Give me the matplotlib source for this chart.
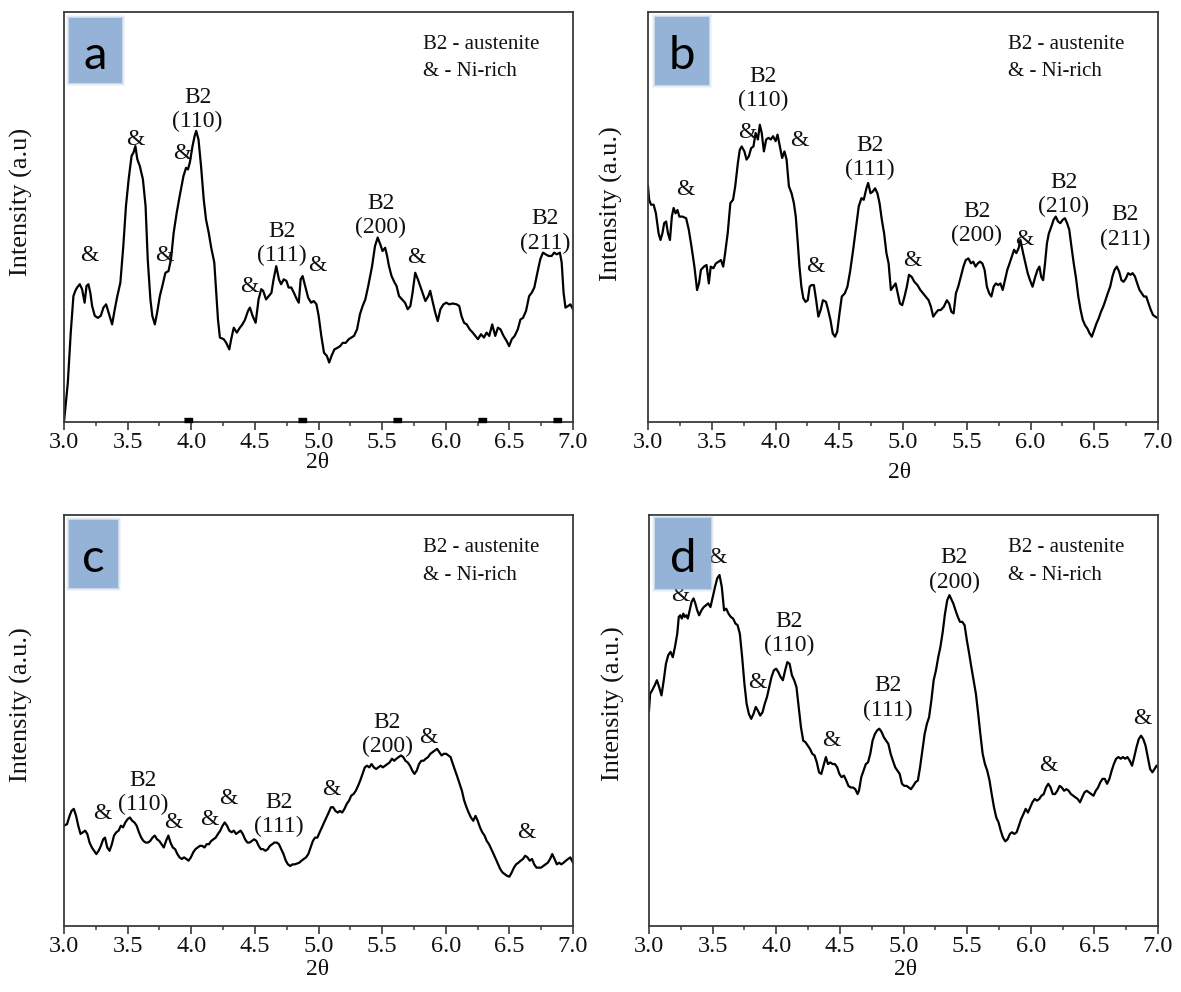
import matplotlib
matplotlib.use("Agg")
import matplotlib.pyplot as plt
from matplotlib.patches import Rectangle
from matplotlib.ticker import MultipleLocator

plt.rcParams['font.family'] = ['Liberation Serif', 'DejaVu Serif']

# ---------------- data (2theta, intensity in arbitrary units, 0-100 of panel height) ---------------
a_x = [3.000, 3.030, 3.053, 3.074, 3.089, 3.103, 3.124, 3.142, 3.162, 3.177, 3.192, 3.207, 3.221, 3.242,
       3.266, 3.289, 3.310, 3.331, 3.354, 3.378, 3.399, 3.419, 3.443, 3.466, 3.487, 3.508, 3.531, 3.546,
       3.561, 3.576, 3.596, 3.620, 3.641, 3.658, 3.679, 3.694, 3.714, 3.732, 3.753, 3.773, 3.797, 3.821,
       3.841, 3.862, 3.886, 3.909, 3.939, 3.959, 3.974, 3.989, 4.010, 4.027, 4.039, 4.057, 4.077, 4.098,
       4.116, 4.137, 4.157, 4.181, 4.196, 4.210, 4.225, 4.255, 4.275, 4.299, 4.314, 4.334, 4.358, 4.382,
       4.402, 4.423, 4.446, 4.461, 4.482, 4.506, 4.529, 4.550, 4.565, 4.588, 4.609, 4.630, 4.647, 4.668,
       4.689, 4.706, 4.727, 4.748, 4.765, 4.786, 4.807, 4.830, 4.845, 4.860, 4.875, 4.895, 4.919, 4.942,
       4.963, 4.984, 5.001, 5.022, 5.043, 5.066, 5.084, 5.102, 5.125, 5.149, 5.170, 5.190, 5.214, 5.238,
       5.258, 5.279, 5.303, 5.326, 5.347, 5.368, 5.391, 5.421, 5.444, 5.465, 5.486, 5.503, 5.524, 5.539,
       5.554, 5.574, 5.598, 5.613, 5.633, 5.657, 5.680, 5.701, 5.722, 5.739, 5.760, 5.781, 5.799, 5.819,
       5.840, 5.863, 5.878, 5.893, 5.917, 5.937, 5.958, 5.982, 6.005, 6.026, 6.055, 6.085, 6.106, 6.123,
       6.144, 6.165, 6.188, 6.212, 6.232, 6.253, 6.277, 6.300, 6.321, 6.342, 6.365, 6.389, 6.410, 6.430,
       6.454, 6.478, 6.498, 6.519, 6.542, 6.566, 6.587, 6.607, 6.631, 6.655, 6.675, 6.696, 6.720, 6.743,
       6.764, 6.785, 6.808, 6.832, 6.852, 6.873, 6.897, 6.911, 6.926, 6.941, 6.962, 6.979, 7.000]
a_y = [0.0, 9.6, 21.8, 30.7, 32.0, 32.8, 33.6, 32.4, 29.1, 33.2, 33.6, 31.5, 28.3, 25.9,
       25.4, 25.9, 27.9, 28.7, 26.3, 23.8, 27.5, 30.7, 34.0, 42.9, 52.7, 59.2, 64.9, 65.7,
       67.3, 64.1, 62.4, 59.2, 52.7, 39.7, 29.9, 25.9, 23.8, 26.7, 30.7, 33.2, 36.4, 36.8,
       39.7, 46.2, 51.1, 55.1, 60.0, 62.0, 61.6, 63.3, 67.3, 69.8, 71.0, 68.9, 62.4, 54.3,
       49.4, 46.2, 42.5, 38.9, 31.5, 25.0, 20.6, 20.2, 19.3, 17.7, 20.2, 23.0, 21.8, 23.0,
       23.8, 25.0, 27.1, 27.9, 25.9, 24.2, 29.9, 32.4, 32.0, 29.9, 30.7, 31.5, 34.8, 38.0,
       34.8, 33.6, 34.8, 34.4, 32.8, 32.8, 31.5, 29.9, 29.1, 34.8, 35.6, 33.2, 30.3, 29.1,
       29.5, 28.7, 25.9, 21.0, 16.9, 16.1, 14.5, 16.1, 17.7, 18.1, 18.5, 19.3, 19.3, 20.2,
       20.6, 21.0, 22.6, 26.3, 28.3, 29.9, 33.2, 38.0, 42.9, 45.0, 43.3, 41.7, 42.5, 40.5,
       38.0, 35.6, 34.0, 33.2, 30.7, 29.9, 29.1, 27.5, 28.3, 31.5, 36.4, 34.8, 33.2, 31.5,
       29.5, 30.7, 32.0, 29.9, 26.7, 24.6, 27.5, 28.7, 29.1, 28.7, 28.9, 28.7, 28.3, 25.9,
       24.2, 23.8, 22.6, 21.8, 21.0, 20.2, 21.4, 20.6, 21.8, 21.0, 23.8, 21.0, 23.0, 22.6,
       21.0, 19.8, 18.5, 20.2, 21.0, 22.6, 25.0, 25.4, 27.1, 30.7, 31.5, 32.8, 36.4, 39.7,
       41.3, 40.9, 40.5, 40.5, 41.3, 40.9, 41.3, 38.9, 31.5, 27.9, 28.3, 28.7, 27.5]
a_marks = [3.972, 4.868, 5.615, 6.283, 6.877]

b_x = [3.000, 3.009, 3.024, 3.044, 3.062, 3.083, 3.098, 3.113, 3.127, 3.142, 3.157, 3.172, 3.187, 3.201,
       3.216, 3.231, 3.246, 3.270, 3.299, 3.320, 3.341, 3.364, 3.385, 3.400, 3.415, 3.439, 3.459, 3.477,
       3.492, 3.513, 3.533, 3.554, 3.572, 3.590, 3.601, 3.625, 3.646, 3.667, 3.684, 3.705, 3.720, 3.735,
       3.756, 3.773, 3.791, 3.809, 3.827, 3.844, 3.862, 3.877, 3.892, 3.909, 3.927, 3.945, 3.963, 3.981,
       4.001, 4.016, 4.034, 4.052, 4.070, 4.087, 4.105, 4.126, 4.144, 4.159, 4.173, 4.188, 4.203, 4.218,
       4.236, 4.253, 4.268, 4.283, 4.301, 4.319, 4.336, 4.354, 4.372, 4.396, 4.413, 4.431, 4.449, 4.467,
       4.484, 4.502, 4.520, 4.544, 4.564, 4.585, 4.609, 4.633, 4.653, 4.674, 4.692, 4.713, 4.727, 4.745,
       4.763, 4.781, 4.799, 4.816, 4.834, 4.852, 4.870, 4.887, 4.905, 4.923, 4.942, 4.959, 4.976, 4.994,
       5.012, 5.030, 5.047, 5.068, 5.089, 5.113, 5.136, 5.157, 5.178, 5.201, 5.219, 5.237, 5.255, 5.276,
       5.296, 5.320, 5.344, 5.362, 5.379, 5.397, 5.415, 5.433, 5.453, 5.474, 5.492, 5.513, 5.533, 5.551,
       5.569, 5.587, 5.604, 5.622, 5.640, 5.658, 5.676, 5.693, 5.711, 5.729, 5.747, 5.764, 5.782, 5.800,
       5.818, 5.836, 5.853, 5.871, 5.889, 5.907, 5.921, 5.942, 5.960, 5.978, 5.996, 6.016, 6.037, 6.055,
       6.070, 6.084, 6.099, 6.114, 6.129, 6.144, 6.164, 6.181, 6.198, 6.216, 6.234, 6.252, 6.270, 6.287,
       6.304, 6.321, 6.339, 6.357, 6.375, 6.393, 6.410, 6.428, 6.446, 6.464, 6.481, 6.499, 6.517, 6.535,
       6.553, 6.570, 6.588, 6.606, 6.625, 6.642, 6.659, 6.677, 6.695, 6.713, 6.730, 6.748, 6.766, 6.784,
       6.801, 6.819, 6.837, 6.855, 6.873, 6.890, 6.908, 6.926, 6.944, 6.961, 6.979, 7.000]
b_y = [57.5, 54.2, 53.0, 53.0, 50.9, 46.0, 44.4, 46.0, 48.5, 48.9, 46.0, 44.4, 50.1, 52.2,
       50.9, 51.7, 50.1, 50.1, 49.7, 46.9, 42.8, 37.9, 32.2, 33.8, 37.1, 37.9, 38.3, 33.8,
       37.9, 37.5, 38.7, 39.1, 39.5, 37.9, 40.3, 46.0, 53.4, 54.2, 57.5, 63.2, 66.4, 67.2,
       66.0, 64.0, 64.8, 66.8, 67.2, 70.5, 68.9, 72.5, 70.5, 66.0, 68.9, 69.3, 68.9, 69.7,
       68.5, 70.1, 67.2, 64.4, 66.0, 64.0, 57.5, 55.8, 53.4, 50.1, 44.4, 37.9, 33.0, 30.2,
       29.3, 29.7, 33.0, 33.4, 33.4, 29.7, 25.7, 27.3, 29.7, 29.3, 27.3, 24.9, 21.6, 20.8,
       22.0, 26.5, 30.6, 31.4, 33.0, 36.7, 42.0, 47.7, 52.6, 54.6, 54.2, 57.0, 58.3, 55.8,
       56.2, 57.0, 55.8, 53.4, 49.3, 46.0, 41.2, 38.7, 32.2, 33.0, 33.8, 31.4, 28.9, 28.5,
       30.6, 33.0, 35.9, 35.4, 34.2, 33.4, 32.2, 31.4, 30.6, 29.7, 28.1, 25.7, 26.5, 27.3,
       27.3, 28.1, 29.7, 28.9, 26.9, 26.5, 31.4, 33.0, 35.4, 37.9, 39.5, 39.9, 38.7, 39.1,
       37.9, 38.7, 39.1, 38.7, 37.1, 33.0, 31.4, 30.6, 33.0, 33.8, 33.4, 33.8, 32.2, 34.6,
       37.1, 38.7, 40.3, 42.0, 41.2, 42.4, 44.4, 41.2, 38.7, 36.3, 34.6, 33.0, 35.4, 37.1,
       37.9, 35.4, 34.6, 38.7, 43.6, 46.0, 47.7, 49.3, 50.1, 48.9, 48.5, 49.3, 49.7, 48.5,
       46.9, 42.8, 38.7, 35.1, 30.6, 27.3, 24.9, 23.6, 22.8, 21.6, 20.8, 22.4, 24.0, 25.3,
       26.9, 28.1, 29.7, 31.4, 33.0, 35.4, 37.1, 37.9, 36.7, 34.6, 34.2, 35.0, 36.3, 35.9,
       36.3, 35.5, 33.8, 32.2, 31.4, 30.6, 30.6, 28.9, 27.3, 26.1, 25.7, 25.3]

c_x = [3.000, 3.024, 3.044, 3.059, 3.077, 3.095, 3.112, 3.130, 3.148, 3.166, 3.183, 3.201, 3.219, 3.237,
       3.254, 3.272, 3.290, 3.308, 3.322, 3.340, 3.358, 3.376, 3.393, 3.411, 3.429, 3.447, 3.464, 3.482,
       3.500, 3.518, 3.536, 3.553, 3.571, 3.589, 3.607, 3.624, 3.642, 3.660, 3.678, 3.695, 3.713, 3.731,
       3.749, 3.766, 3.784, 3.802, 3.820, 3.837, 3.855, 3.873, 3.891, 3.908, 3.926, 3.944, 3.962, 3.979,
       3.997, 4.015, 4.033, 4.050, 4.068, 4.086, 4.104, 4.121, 4.139, 4.157, 4.175, 4.192, 4.210, 4.228,
       4.246, 4.263, 4.281, 4.299, 4.317, 4.334, 4.352, 4.370, 4.388, 4.405, 4.423, 4.441, 4.459, 4.476,
       4.494, 4.512, 4.530, 4.547, 4.565, 4.583, 4.601, 4.618, 4.636, 4.654, 4.672, 4.689, 4.707, 4.725,
       4.743, 4.760, 4.778, 4.796, 4.814, 4.831, 4.849, 4.867, 4.885, 4.902, 4.920, 4.938, 4.956, 4.973,
       4.991, 5.009, 5.027, 5.044, 5.062, 5.080, 5.098, 5.115, 5.133, 5.151, 5.169, 5.186, 5.204, 5.222,
       5.240, 5.257, 5.275, 5.293, 5.311, 5.328, 5.346, 5.364, 5.382, 5.399, 5.417, 5.435, 5.453, 5.470,
       5.488, 5.506, 5.524, 5.541, 5.559, 5.577, 5.595, 5.612, 5.630, 5.648, 5.666, 5.683, 5.701, 5.719,
       5.737, 5.754, 5.772, 5.790, 5.808, 5.825, 5.843, 5.861, 5.879, 5.896, 5.914, 5.932, 5.950, 5.967,
       5.985, 6.003, 6.021, 6.038, 6.056, 6.074, 6.092, 6.109, 6.127, 6.145, 6.163, 6.180, 6.198, 6.216,
       6.234, 6.251, 6.269, 6.287, 6.305, 6.322, 6.340, 6.358, 6.376, 6.393, 6.411, 6.429, 6.447, 6.464,
       6.482, 6.500, 6.518, 6.536, 6.553, 6.571, 6.589, 6.607, 6.624, 6.642, 6.660, 6.678, 6.695, 6.713,
       6.731, 6.749, 6.766, 6.784, 6.802, 6.820, 6.837, 6.855, 6.873, 6.891, 6.908, 6.926, 6.944, 6.962,
       6.979, 7.000]
c_y = [24.4, 24.8, 26.8, 28.0, 28.5, 26.8, 24.4, 22.4, 22.8, 23.2, 22.4, 20.3, 19.1, 18.3,
       17.5, 18.3, 19.5, 21.1, 21.5, 19.1, 18.3, 19.9, 22.0, 22.8, 23.2, 24.4, 24.0, 25.2,
       26.0, 26.4, 25.6, 25.2, 24.4, 22.8, 21.5, 20.7, 20.3, 20.3, 20.7, 21.5, 22.0, 21.1,
       20.7, 19.9, 19.1, 20.7, 22.0, 20.3, 19.1, 18.7, 17.5, 16.7, 16.3, 16.7, 16.3, 15.9,
       16.7, 17.9, 18.7, 19.1, 19.5, 19.5, 19.1, 19.9, 19.9, 20.7, 21.1, 21.5, 22.4, 23.2,
       24.4, 25.2, 24.4, 23.2, 22.8, 23.2, 22.4, 22.8, 23.2, 22.4, 21.1, 20.3, 20.3, 20.7,
       21.1, 20.7, 19.5, 18.7, 18.7, 18.3, 18.7, 19.5, 19.9, 20.3, 20.3, 19.9, 18.7, 17.5,
       15.9, 15.0, 14.6, 15.0, 15.0, 15.2, 15.4, 15.9, 16.3, 16.7, 17.5, 19.1, 20.7, 21.5,
       21.5, 22.8, 24.0, 25.2, 26.4, 27.6, 28.9, 28.9, 28.0, 27.6, 28.0, 27.6, 28.5, 29.7,
       30.5, 31.7, 32.1, 32.9, 34.1, 35.4, 37.0, 38.6, 39.0, 38.6, 39.4, 38.6, 38.2, 38.6,
       39.0, 38.6, 39.0, 39.4, 39.8, 40.7, 40.2, 40.7, 41.1, 41.5, 41.1, 40.2, 39.8, 39.0,
       37.8, 37.0, 37.8, 39.4, 40.2, 40.2, 40.7, 41.1, 41.9, 42.3, 42.7, 43.1, 42.3, 41.5,
       41.9, 41.9, 41.5, 41.1, 39.4, 37.8, 36.2, 34.6, 32.9, 30.5, 28.9, 27.6, 26.4, 25.6,
       26.8, 25.6, 24.0, 22.8, 22.0, 20.7, 19.9, 18.7, 17.5, 16.3, 15.0, 13.8, 13.0, 12.6,
       12.2, 12.0, 13.0, 14.2, 15.0, 15.4, 15.9, 16.3, 17.1, 16.7, 15.9, 16.3, 15.0, 14.2,
       14.2, 14.2, 14.6, 15.0, 15.4, 16.3, 17.5, 16.3, 15.0, 15.4, 15.0, 15.4, 15.9, 16.3,
       16.7, 15.4]

d_x = [3.000, 3.009, 3.024, 3.044, 3.062, 3.080, 3.098, 3.116, 3.133, 3.151, 3.169, 3.187, 3.204, 3.222,
       3.234, 3.246, 3.258, 3.270, 3.281, 3.293, 3.305, 3.320, 3.335, 3.350, 3.364, 3.379, 3.394, 3.412,
       3.430, 3.447, 3.465, 3.483, 3.501, 3.519, 3.536, 3.554, 3.572, 3.590, 3.607, 3.625, 3.643, 3.661,
       3.679, 3.696, 3.714, 3.732, 3.750, 3.767, 3.785, 3.803, 3.821, 3.839, 3.856, 3.874, 3.892, 3.910,
       3.927, 3.945, 3.963, 3.981, 3.999, 4.016, 4.034, 4.052, 4.070, 4.087, 4.105, 4.123, 4.141, 4.159,
       4.176, 4.194, 4.212, 4.230, 4.247, 4.265, 4.283, 4.301, 4.319, 4.336, 4.354, 4.372, 4.390, 4.407,
       4.425, 4.443, 4.461, 4.479, 4.496, 4.514, 4.532, 4.550, 4.567, 4.585, 4.603, 4.621, 4.639, 4.650,
       4.668, 4.686, 4.704, 4.721, 4.739, 4.757, 4.775, 4.793, 4.810, 4.828, 4.846, 4.864, 4.881, 4.899,
       4.917, 4.935, 4.953, 4.970, 4.988, 5.006, 5.024, 5.041, 5.059, 5.077, 5.095, 5.113, 5.130, 5.148,
       5.166, 5.184, 5.201, 5.219, 5.237, 5.255, 5.273, 5.290, 5.308, 5.326, 5.344, 5.361, 5.373, 5.391,
       5.409, 5.427, 5.444, 5.462, 5.480, 5.498, 5.516, 5.533, 5.551, 5.569, 5.587, 5.604, 5.622, 5.640,
       5.658, 5.676, 5.693, 5.711, 5.729, 5.747, 5.764, 5.782, 5.800, 5.818, 5.836, 5.853, 5.871, 5.889,
       5.907, 5.924, 5.942, 5.960, 5.978, 5.996, 6.013, 6.031, 6.049, 6.067, 6.084, 6.102, 6.120, 6.138,
       6.156, 6.173, 6.191, 6.209, 6.227, 6.244, 6.262, 6.280, 6.298, 6.316, 6.333, 6.351, 6.369, 6.387,
       6.404, 6.422, 6.440, 6.458, 6.476, 6.493, 6.511, 6.529, 6.547, 6.564, 6.582, 6.600, 6.618, 6.636,
       6.653, 6.671, 6.689, 6.707, 6.724, 6.742, 6.760, 6.778, 6.796, 6.813, 6.831, 6.849, 6.867, 6.884,
       6.902, 6.920, 6.938, 6.956, 6.973, 6.988, 7.000]
d_y = [52.4, 56.5, 57.3, 58.5, 59.8, 58.1, 56.1, 59.8, 63.8, 65.9, 66.7, 65.4, 67.9, 71.1,
       75.2, 75.6, 74.8, 76.0, 75.2, 75.6, 74.8, 76.8, 78.9, 79.7, 78.5, 76.8, 75.6, 76.8,
       77.6, 78.0, 78.5, 77.6, 80.1, 82.5, 84.6, 85.4, 82.5, 76.8, 77.2, 76.0, 75.2, 74.8,
       73.6, 73.2, 71.1, 65.4, 58.9, 54.1, 51.6, 50.4, 51.6, 53.3, 52.4, 51.2, 52.0, 54.1,
       55.7, 58.1, 60.6, 62.2, 62.6, 61.8, 60.6, 59.8, 62.2, 64.2, 63.8, 61.0, 59.8, 58.1,
       53.3, 48.4, 45.1, 44.7, 43.9, 43.1, 41.9, 41.5, 39.8, 37.4, 37.0, 39.0, 41.1, 39.4,
       39.8, 39.4, 39.4, 38.6, 37.0, 36.2, 36.6, 35.4, 34.1, 33.7, 33.7, 33.3, 32.1, 32.9,
       36.2, 37.8, 39.4, 39.8, 41.9, 45.1, 46.7, 47.6, 48.0, 47.2, 45.9, 45.1, 44.3, 41.9,
       40.2, 38.6, 37.8, 37.0, 34.6, 34.1, 34.1, 33.7, 33.3, 34.1, 35.0, 35.4, 38.6, 42.7,
       46.7, 49.2, 50.8, 54.9, 59.8, 62.2, 65.4, 67.9, 71.5, 76.0, 79.3, 80.5, 79.7, 78.5,
       76.8, 75.2, 74.0, 74.0, 73.2, 69.5, 66.3, 63.0, 59.8, 56.5, 51.6, 46.7, 41.9, 39.4,
       37.8, 35.4, 32.1, 28.9, 26.4, 25.2, 23.2, 21.5, 20.6, 21.1, 22.4, 22.8, 22.4, 22.8,
       24.4, 26.0, 27.2, 28.5, 27.6, 28.9, 30.1, 30.9, 30.5, 30.9, 31.7, 32.1, 33.7, 34.6,
       33.7, 32.1, 32.1, 32.9, 34.1, 33.7, 32.9, 33.3, 32.9, 32.1, 31.7, 31.3, 30.9, 30.1,
       31.3, 32.5, 32.9, 32.5, 32.1, 31.7, 32.9, 33.7, 35.0, 35.8, 35.8, 34.6, 35.8, 37.8,
       39.4, 40.7, 41.1, 40.7, 41.1, 40.7, 41.1, 40.2, 39.0, 41.1, 43.5, 45.5, 46.3, 45.5,
       43.9, 41.1, 38.2, 37.4, 38.2, 39.0, 38.6]

# peak annotations: (2theta, intensity, text)
a_labels = [(3.20, 40.5, "&"), (3.56, 68.9, "&"), (3.93, 65.5, "&"), (4.05, 76.2, "B2\n(110)"),
            (3.79, 40.7, "&"), (4.46, 33.0, "&"), (4.71, 43.6, "B2\n(111)"), (4.99, 38.2, "&"),
            (5.49, 50.3, "B2\n(200)"), (5.77, 40.1, "&"), (6.78, 46.6, "B2\n(211)")]
b_labels = [(3.29, 56.8, "&"), (3.90, 81.3, "B2\n(110)"), (3.78, 70.7, "&"), (4.19, 68.6, "&"),
            (4.74, 64.5, "B2\n(111)"), (4.31, 37.9, "&"), (5.07, 39.5, "&"), (5.58, 48.4, "B2\n(200)"),
            (5.95, 44.4, "&"), (6.26, 55.5, "B2\n(210)"), (6.74, 47.6, "B2\n(211)")]
c_labels = [(3.30, 27.4, "&"), (3.62, 32.4, "B2\n(110)"), (3.86, 25.2, "&"), (4.14, 25.8, "&"),
            (4.29, 31.1, "&"), (4.69, 27.2, "B2\n(111)"), (5.10, 33.3, "&"), (5.54, 46.6, "B2\n(200)"),
            (5.86, 45.9, "&"), (6.63, 22.8, "&")]
d_labels = [(3.25, 80.5, "&"), (3.54, 89.7, "&"), (3.85, 59.3, "&"), (4.10, 71.2, "B2\n(110)"),
            (4.43, 45.1, "&"), (4.88, 55.5, "B2\n(111)"), (5.40, 86.6, "B2\n(200)"), (6.14, 39.0, "&"),
            (6.88, 50.4, "&")]

panel_letters = ["a", "b", "c", "d"]
ylabels = ["Intensity (a.u)", "Intensity (a.u.)", "Intensity (a.u.)", "Intensity (a.u.)"]
xlabel = "2\u03b8"
legend_lines = ["B2 - austenite", "& - Ni-rich"]
xticks = [3.0, 3.5, 4.0, 4.5, 5.0, 5.5, 6.0, 6.5, 7.0]

# ---------------- layout ----------------
W, H = 1181, 992
fig = plt.figure(figsize=(W / 100, H / 100), dpi=100)

def fig_rect(l, t, r, b):
    return [l / W, 1 - b / H, (r - l) / W, (b - t) / H]

rects = [fig_rect(64, 12, 573, 422), fig_rect(648, 12, 1158, 422),
         fig_rect(64, 515, 573, 926), fig_rect(649, 515, 1158, 926)]
boxes = [(0.010, 0.827, 0.104, 0.158), (0.014, 0.822, 0.106, 0.166),
         (0.010, 0.822, 0.096, 0.166), (0.012, 0.820, 0.110, 0.173)]
xlabel_y = [-0.100, -0.124, -0.107, -0.107]
xlabel_x = [0.499, 0.494, 0.499, 0.504]
ylabel_x = [-0.083, -0.071, -0.083, -0.069]
ylabel_y = [0.537, 0.532, 0.538, 0.540]

series = [(a_x, a_y, a_labels), (b_x, b_y, b_labels), (c_x, c_y, c_labels), (d_x, d_y, d_labels)]
box_color = "#95B3D7"
spine_color = "#3a3a3a"

for i, (xs, ys, labels) in enumerate(series):
    ax = fig.add_axes(rects[i])
    ax.plot(xs, ys, color="black", lw=1.6, solid_joinstyle="round")
    ax.set_xlim(3.0, 7.0)
    ax.set_ylim(0, 100)
    ax.set_xticks(xticks)
    ax.set_xticklabels([f"{t:.1f}" for t in xticks])
    ax.xaxis.set_minor_locator(MultipleLocator(0.25))
    ax.set_yticks([])
    ax.tick_params(axis="x", which="major", direction="out", length=6, width=1.2,
                   labelsize=17.5, pad=1.5, colors=spine_color, labelcolor="#111111")
    ax.tick_params(axis="x", which="minor", direction="out", length=3, width=1.1, colors=spine_color)
    for s in ax.spines.values():
        s.set_linewidth(1.3)
        s.set_color(spine_color)

    for (tx, ty, txt) in labels:
        ax.text(tx, ty, txt, ha="center", va="center", fontsize=17, linespacing=1.2, color="#111111")

    # legend-like text
    ax.text(0.705, 0.92, legend_lines[0], transform=ax.transAxes, ha="left", va="center",
            fontsize=15, color="#111111")
    ax.text(0.705, 0.854, legend_lines[1], transform=ax.transAxes, ha="left", va="center",
            fontsize=15, color="#111111")

    # axis labels
    ax.text(xlabel_x[i], xlabel_y[i], xlabel, transform=ax.transAxes, ha="center", va="center",
            fontsize=17, color="#111111")
    ax.text(ylabel_x[i], ylabel_y[i], ylabels[i], transform=ax.transAxes, ha="center", va="center",
            rotation=90, fontsize=19, color="#111111")

    # panel letter box with soft edge
    bx, by, bw, bh = boxes[i]
    for k, al in enumerate([0.10, 0.18, 0.3]):
        g = (3 - k) * 0.002
        ax.add_patch(Rectangle((bx - g, by - g * 1.2), bw + 2 * g, bh + 2.4 * g, transform=ax.transAxes,
                               facecolor=box_color, edgecolor="none", alpha=al, zorder=3))
    ax.add_patch(Rectangle((bx, by), bw, bh, transform=ax.transAxes, facecolor=box_color,
                           edgecolor="none", zorder=3))
    ax.text(bx + bw / 2, 0.861, panel_letters[i], transform=ax.transAxes, ha="center",
            va="baseline", fontsize=34, family=["Lato", "DejaVu Sans"], color="black", zorder=4)

    if i == 0:
        ax.scatter(a_marks, [0.6] * len(a_marks), marker=[(-1.6, -1), (1.6, -1), (1.6, 1), (-1.6, 1)],
                   s=30, color="black", clip_on=False, zorder=5)

fig.savefig("out.png", dpi=100)
